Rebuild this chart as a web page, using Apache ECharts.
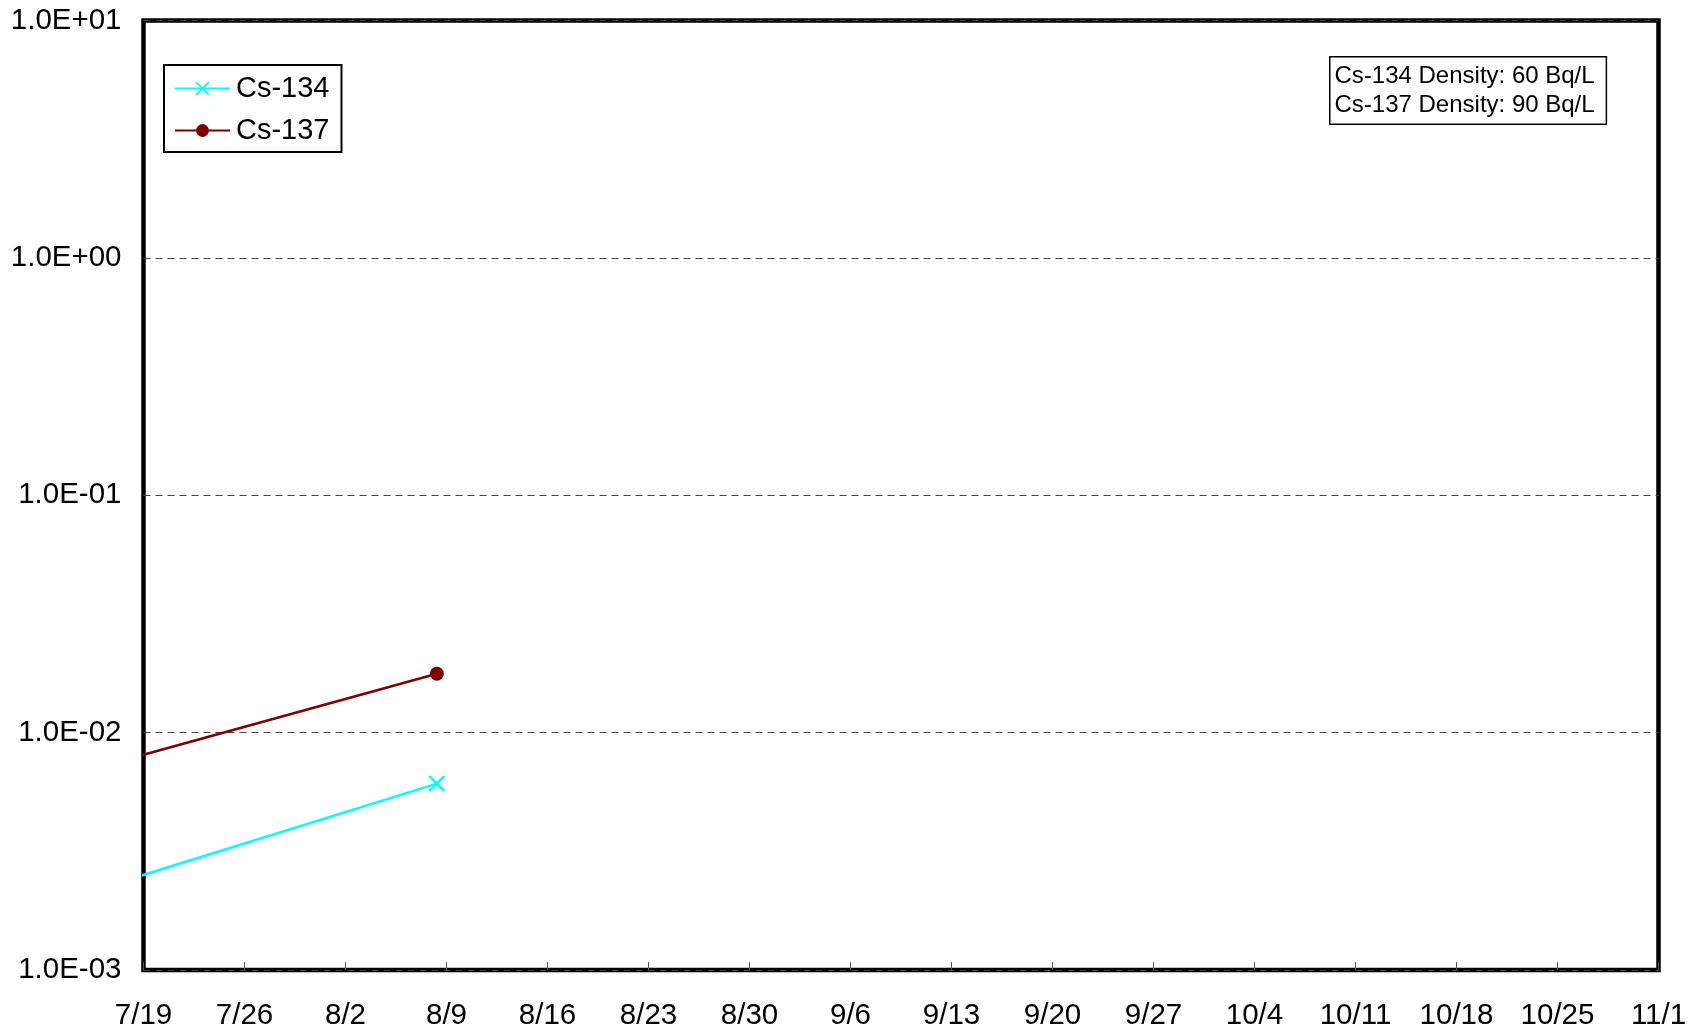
<!DOCTYPE html>
<html>
<head>
<meta charset="utf-8">
<script src="https://cdn.jsdelivr.net/npm/echarts@6/dist/echarts.min.js"></script>
<style>
  html, body { margin: 0; padding: 0; background: #fff; }
  #chart { width: 1692px; height: 1033px; }
</style>
</head>
<body>
<div id="chart"></div>
<script>
// Sampling times and measured concentrations (Bq/L, log scale)
const sampleTimes = ['2012-07-11T08:00:00Z', '2012-08-08T08:00:00Z'];
const cs134Values = [0.0018, 0.0061];
const cs137Values = [0.0060, 0.0177];

// Axis range: weekly ticks from 7/19 to 11/1
const axisStart = '2012-07-19T00:00:00Z';
const axisEnd = '2012-11-01T00:00:00Z';
const tickDays = 7;

// Text shown in the density note
const noteLines = ['Cs-134 Density: 60 Bq/L', 'Cs-137 Density: 90 Bq/L'];

const DAY = 86400000;
const t0 = Date.parse(axisStart);
const dayOffset = d => (Date.parse(d) - t0) / DAY;
const spanDays = Math.round(dayOffset(axisEnd));

const pairs = vals => sampleTimes.map((d, i) => [dayOffset(d), vals[i]]);

const FONT = '"Liberation Sans", Arial, sans-serif';

function sciLabel(v) {
  const e = Math.round(Math.log10(v));
  const s = e >= 0 ? '+' : '-';
  const a = Math.abs(e);
  return '1.0E' + s + (a < 10 ? '0' + a : a);
}

function dateLabel(v) {
  const d = new Date(t0 + v * DAY);
  return (d.getUTCMonth() + 1) + '/' + d.getUTCDate();
}

const chart = echarts.init(document.getElementById('chart'), null, { renderer: 'canvas' });

chart.setOption({
  animation: false,
  backgroundColor: '#ffffff',
  grid: {
    left: 143.5, right: 33.5, top: 20.5, bottom: 63,
    show: true, borderColor: '#000', borderWidth: 4.5, backgroundColor: 'transparent'
  },
  legend: {
    left: 164, top: 65,
    orient: 'vertical',
    backgroundColor: '#fff',
    borderColor: '#000', borderWidth: 2,
    padding: [9, 12, 7, 10],
    itemGap: 13,
    itemWidth: 55, itemHeight: 16,
    textStyle: { fontFamily: FONT, fontSize: 29, color: '#000', padding: [0, 0, 0, 1] },
    data: ['Cs-134', 'Cs-137']
  },
  xAxis: {
    type: 'value',
    min: 0, max: spanDays, interval: tickDays,
    axisLine: { show: false },
    axisTick: { show: true, inside: true, length: 8, lineStyle: { color: '#555', width: 1 } },
    splitLine: { show: false },
    axisLabel: {
      margin: 31, fontFamily: FONT, fontSize: 29.5, color: '#000',
      formatter: dateLabel
    }
  },
  yAxis: {
    type: 'log', logBase: 10,
    min: 0.001, max: 10,
    axisLine: { show: false },
    axisTick: { show: false },
    splitLine: { show: true, lineStyle: { color: '#444', width: 1, type: [7, 5] } },
    axisLabel: {
      margin: 22, fontFamily: FONT, fontSize: 29.5, color: '#000',
      formatter: sciLabel
    }
  },
  series: [
    {
      name: 'Cs-134', type: 'line',
      data: pairs(cs134Values),
      clip: true,
      symbol: 'path://M0,0L10,10M10,0L0,10',
      symbolSize: 15,
      showSymbol: true,
      lineStyle: { color: '#00ffff', width: 2.5 },
      itemStyle: { color: '#00ffff', borderColor: '#00ffff', borderWidth: 2.5 },
      z: 3
    },
    {
      name: 'Cs-137', type: 'line',
      data: pairs(cs137Values),
      clip: true,
      symbol: 'circle',
      symbolSize: 14,
      lineStyle: { color: '#800000', width: 2.5 },
      itemStyle: { color: '#800000', borderWidth: 0 },
      z: 3
    }
  ],
  graphic: [
    {
      type: 'text',
      left: 1329, top: 56,
      z: 10,
      style: {
        text: noteLines.join('\n'),
        font: '24px ' + FONT,
        fill: '#000',
        lineHeight: 29,
        backgroundColor: '#fff',
        borderColor: '#000',
        borderWidth: 1.5,
        padding: [4, 11, 4, 4]
      }
    }
  ]
});
</script>
</body>
</html>
